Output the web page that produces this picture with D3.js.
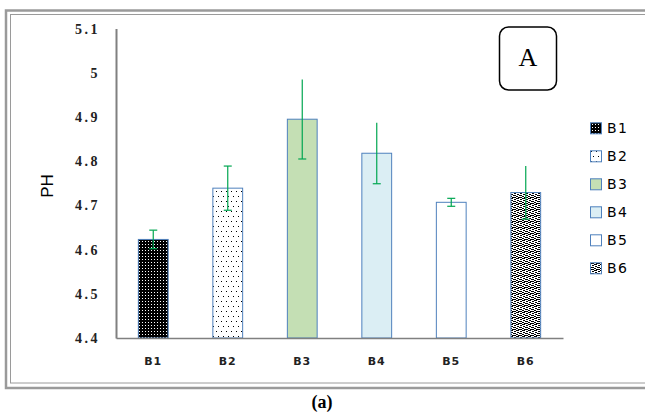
<!DOCTYPE html>
<html><head><meta charset="utf-8">
<script src="https://cdn.jsdelivr.net/npm/d3@7/dist/d3.min.js"></script>
<style>body{margin:0;background:#fff}svg{display:block}</style>
</head><body>
<svg id="c" width="645" height="418"></svg>
<script>
const categories = ["B1","B2","B3","B4","B5","B6"];
const values = [4.623, 4.739, 4.895, 4.818, 4.707, 4.729];
const errors = [0.021, 0.05, 0.09, 0.069, 0.009, 0.06];
const capTop = [true, true, false, false, true, false];
const yTicks = [4.4, 4.5, 4.6, 4.7, 4.8, 4.9, 5, 5.1];
const fills = ["url(#p1)", "url(#p2)", "#c4dfb4", "#dbeef4", "#ffffff", "url(#p6)"];

const svg = d3.select("#c");
const defs = svg.append("defs");
let p = defs.append("pattern").attr("id","p1").attr("patternUnits","userSpaceOnUse").attr("width",3).attr("height",3);
p.append("rect").attr("width",3).attr("height",3).attr("fill","#000");
p.append("rect").attr("x",1).attr("y",1).attr("width",1).attr("height",1).attr("fill","#fff");
p = defs.append("pattern").attr("id","p2").attr("patternUnits","userSpaceOnUse").attr("width",10).attr("height",10);
p.append("rect").attr("width",10).attr("height",10).attr("fill","#fff");
[[1,1],[6,1],[3,6],[8,6]].forEach(([x,y])=>p.append("rect").attr("x",x).attr("y",y).attr("width",1).attr("height",1).attr("fill","#000"));
p = defs.append("pattern").attr("id","p6").attr("patternUnits","userSpaceOnUse").attr("width",6).attr("height",6);
p.append("rect").attr("width",6).attr("height",6).attr("fill","#fff");
[[0,0,3,1],[4,1,2,1],[1,2,2,1],[3,3,3,1],[0,4,2,1],[2,5,3,1],[5,5,1,1]].forEach(([x,y,w,h])=>p.append("rect").attr("x",x).attr("y",y).attr("width",w).attr("height",h).attr("fill","#000"));

svg.append("rect").attr("x",6).attr("y",10.5).attr("width",660).attr("height",377.5).attr("fill","none").attr("stroke","#9a9a9a").attr("stroke-width",2.5);
svg.append("rect").attr("x",10.5).attr("y",14.5).attr("width",660).attr("height",368.5).attr("fill","none").attr("stroke","#9a9a9a").attr("stroke-width",1);

const x = d3.scaleBand().domain(categories).range([116, 563]).paddingInner(0.6).paddingOuter(0.3);
const y = d3.scaleLinear().domain([4.4, 5.1]).range([338, 28.6]);

svg.append("g").selectAll("rect").data(categories).join("rect")
  .attr("x", d => x(d)).attr("width", x.bandwidth())
  .attr("y", (d,i) => y(values[i])).attr("height", (d,i) => y(4.4) - y(values[i]))
  .attr("fill", (d,i) => fills[i]).attr("stroke","#4f81bd").attr("stroke-width",1);

const eg = svg.append("g").attr("stroke","#00a651").attr("stroke-width",1.2);
categories.forEach((c,i) => {
  const cx = x(c) + x.bandwidth()/2;
  const t = y(values[i] + errors[i]), b = y(values[i] - errors[i]);
  eg.append("line").attr("x1",cx).attr("x2",cx).attr("y1",t).attr("y2",b);
  eg.append("line").attr("x1",cx-4).attr("x2",cx+4).attr("y1",b).attr("y2",b);
  if (capTop[i]) eg.append("line").attr("x1",cx-4).attr("x2",cx+4).attr("y1",t).attr("y2",t);
});

const ya = svg.append("g").attr("transform","translate(116,0)")
  .call(d3.axisLeft(y).tickValues(yTicks).tickSize(0).tickPadding(16).tickFormat(d => String(d)));
ya.select(".domain").attr("stroke","#808080").attr("stroke-width",2);
ya.selectAll("text").attr("font-family","'Liberation Serif', serif").attr("font-weight","bold")
  .attr("font-size",14).attr("letter-spacing","2.5px").attr("fill","#222");

const xa = svg.append("g").attr("transform","translate(0,338)")
  .call(d3.axisBottom(x).tickSize(0).tickPadding(19));
xa.select(".domain").attr("stroke","#808080").attr("stroke-width",1.5);
xa.selectAll("text").attr("font-family","'DejaVu Sans', sans-serif").attr("font-weight","bold")
  .attr("font-size",11).attr("letter-spacing","1px").attr("fill","#222");

svg.append("text").attr("transform","translate(53,186) rotate(-90)").attr("text-anchor","middle")
  .attr("font-family","'Liberation Sans', Arial, sans-serif").attr("font-size",17).attr("fill","#000").text("PH");

const lg = svg.append("g");
categories.forEach((c,i) => {
  const ly = 128.3 + i*28;
  lg.append("rect").attr("x",590.5).attr("y",ly-5.5).attr("width",11).attr("height",11)
    .attr("fill",fills[i]).attr("stroke","#4f81bd").attr("stroke-width",1);
  lg.append("text").attr("x",607).attr("y",ly).attr("dy","0.36em")
    .attr("font-family","'DejaVu Sans', sans-serif").attr("font-size",14).attr("letter-spacing","1.5px")
    .attr("fill","#000").text(c);
});

svg.append("rect").attr("x",499.5).attr("y",27).attr("width",57).attr("height",63).attr("rx",9)
  .attr("fill","#fff").attr("stroke","#000").attr("stroke-width",1.5);
svg.append("text").attr("x",528).attr("y",66).attr("text-anchor","middle")
  .attr("font-family","'Liberation Serif', serif").attr("font-size",26).attr("fill","#000").text("A");

svg.append("text").attr("x",322).attr("y",408).attr("text-anchor","middle")
  .attr("font-family","'Liberation Serif', serif").attr("font-weight","bold").attr("font-size",18).attr("fill","#000").text("(a)");
</script>
</body></html>
